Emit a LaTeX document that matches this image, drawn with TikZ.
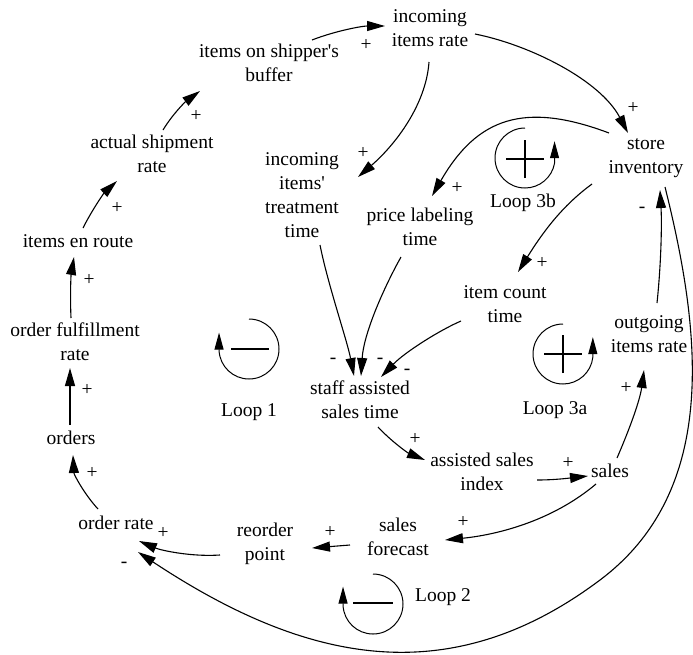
\documentclass[tikz,border=0pt]{standalone}
\usepackage{fontspec}
\newfontfamily\diafont{Liberation Serif}
\usetikzlibrary{arrows.meta}
\begin{document}
\begin{tikzpicture}[x=1pt,y=-1pt,
  var/.style={font=\diafont\fontsize{19.5}{24}\selectfont, align=center, inner sep=0pt,
    execute at begin node=\strut, execute at end node=\strut},
  pol/.style={font=\diafont\fontsize{19.5}{24}\selectfont, inner sep=0pt},
  link/.style={line width=1.1pt, -{Triangle[length=18pt,width=10pt]}},
  loopc/.style={line width=1pt, -{Triangle[length=17pt,width=9pt]}},
  bar/.style={line width=2.6pt}]
\useasboundingbox (0,0) rectangle (693,654);

% variables
\node[var] (buf) at (269,66) {items on shipper's\\buffer};
\node[var] (inc) at (430,32) {incoming\\items rate};
\node[var] (act) at (152,157) {actual shipment\\rate};
\node[var] (route) at (78,243) {items en route};
\node[var] (ful) at (75,345) {order fulfillment\\rate};
\node[var] (ord) at (71,440) {orders};
\node[var] (orate) at (116,525) {order rate};
\node[var] (reord) at (265,545) {reorder\\point};
\node[var] (fore) at (398,540) {sales\\forecast};
\node[var] (assist) at (482,475) {assisted sales\\index};
\node[var] (sales) at (610,473) {sales};
\node[var] (staff) at (360,403) {staff assisted\\sales time};
\node[var] (treat) at (302,199) {incoming\\items'\\treatment\\time};
\node[var] (price) at (420,230) {price labeling\\time};
\node[var] (count) at (505,308) {item count\\time};
\node[var] (store) at (646,160) {store\\inventory};
\node[var] (out) at (649,338) {outgoing\\items rate};
\node[var] (l1) at (249,412) {Loop 1};
\node[var] (l2) at (443,597) {Loop 2};
\node[var] (l3a) at (555,410) {Loop 3a};
\node[var] (l3b) at (523,203) {Loop 3b};

% links
\draw[link] ([shift={(43,-26)}]buf.center) .. controls (335,31) and (362,26) .. ([shift={(-45,-6)}]inc.center);
\draw[link] ([shift={(45,2)}]inc.center) .. controls (530,45) and (600,80) .. ([shift={(-18,-27)}]store.center);
\draw[link] ([shift={(-1,30)}]inc.center) .. controls (426,105) and (395,145) .. ([shift={(56,-22)}]treat.center);
\draw[link] ([shift={(-37,-27)}]store.center) .. controls (524,101) and (477,118) .. ([shift={(12,-34)}]price.center);
\draw[link] ([shift={(-54,24)}]store.center) .. controls (562,206) and (543,232) .. ([shift={(13,-36)}]count.center);
\draw[link] ([shift={(8,-35)}]out.center) .. controls (661,265) and (662,225) .. ([shift={(14,30)}]store.center);
\draw[link] ([shift={(19,27)}]store.center) .. controls (701,331) and (720,490) .. (600,580)
   .. controls (448,694) and (304,662) .. ([shift={(22,27)}]orate.center);
\draw[link] ([shift={(18,46)}]treat.center) .. controls (328,285) and (347,340) .. ([shift={(-6,-27)}]staff.center);
\draw[link] ([shift={(-19,27)}]price.center) .. controls (388,280) and (364,330) .. ([shift={(1,-27)}]staff.center);
\draw[link] ([shift={(-44,13)}]count.center) .. controls (440,330) and (405,352) .. ([shift={(21,-26)}]staff.center);
\draw[link] ([shift={(18,24)}]staff.center) .. controls (392,442) and (408,453) .. ([shift={(-57,-15)}]assist.center);
\draw[link] ([shift={(55,5)}]assist.center) .. controls (555,480) and (570,478) .. ([shift={(-22,3)}]sales.center);
\draw[link] ([shift={(7,-15)}]sales.center) .. controls (630,428) and (640,400) .. ([shift={(-5,32)}]out.center);
\draw[link] ([shift={(-14,11)}]sales.center) .. controls (551,522) and (495,535) .. ([shift={(47,0)}]fore.center);
\draw[link] ([shift={(-48,5)}]fore.center) -- ([shift={(47,3)}]reord.center);
\draw[link] ([shift={(-45,10)}]reord.center) .. controls (190,557) and (160,550) .. ([shift={(23,16)}]orate.center);
\draw[link] ([shift={(-18,-16)}]orate.center) .. controls (85,495) and (74,475) .. ([shift={(2,15)}]ord.center);
\draw[link] ([shift={(-1,-15)}]ord.center) -- ([shift={(-5,23)}]ful.center);
\draw[link] ([shift={(-4,-27)}]ful.center) .. controls (70,295) and (71,275) .. ([shift={(-4,14)}]route.center);
\draw[link] ([shift={(5,-15)}]route.center) .. controls (92,210) and (104,193) .. ([shift={(-35,24)}]act.center);
\draw[link] ([shift={(11,-27)}]act.center) .. controls (172,115) and (185,102) .. ([shift={(-69,25)}]buf.center);

% polarities
\node[pol] (p1) at (366,45) {+};
\node[pol] (p2) at (633,108) {+};
\node[pol] (p3) at (363,153) {+};
\node[pol] (p4) at (457,188) {+};
\node[pol] (p5) at (542,263) {+};
\node[pol] (p6) at (642,210) {-};
\node[pol] (p7) at (124,565) {-};
\node[pol] (p8) at (333,361) {-};
\node[pol] (p9) at (380,361) {-};
\node[pol] (p10) at (407,372) {-};
\node[pol] (p11) at (415,439) {+};
\node[pol] (p12) at (568,463) {+};
\node[pol] (p13) at (626,388) {+};
\node[pol] (p14) at (463,522) {+};
\node[pol] (p15) at (330,532) {+};
\node[pol] (p16) at (163,533) {+};
\node[pol] (p17) at (92,473) {+};
\node[pol] (p18) at (87,390) {+};
\node[pol] (p19) at (89,280) {+};
\node[pol] (p20) at (117,208) {+};
\node[pol] (p21) at (196,116) {+};

% loop symbols
\begin{scope}[shift={(249,349)},yscale=-1]
  \draw[loopc] (90:30) arc[start angle=90,end angle=-177,radius=30] -- ++(0,18);
  \draw[bar] (-18,0) -- (20,0);
\end{scope}
\begin{scope}[shift={(373,604)},yscale=-1]
  \draw[loopc] (90:30) arc[start angle=90,end angle=-177,radius=30] -- ++(0,19);
  \draw[bar] (-20,1) -- (20,1);
\end{scope}
\begin{scope}[shift={(563,354)},yscale=-1]
  \draw[loopc] (90:30) arc[start angle=90,end angle=354,radius=30] -- ++(0,20);
  \draw[bar] (-19,0) -- (19,0);
  \draw[bar] (0,-19) -- (0,19);
\end{scope}
\begin{scope}[shift={(525,158)},yscale=-1]
  \draw[loopc] (90:30) arc[start angle=90,end angle=350,radius=30] -- ++(0,22);
  \draw[bar] (-19,-1) -- (19,-1);
  \draw[bar] (0,-20) -- (0,18);
\end{scope}
\end{tikzpicture}
\end{document}
